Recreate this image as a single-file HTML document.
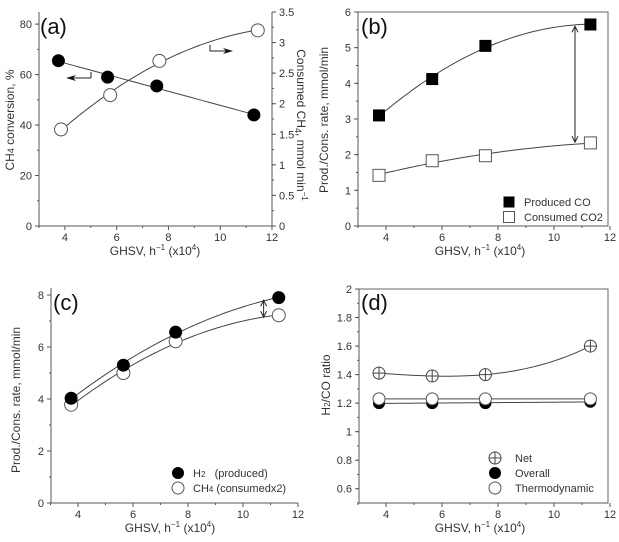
<!DOCTYPE html>
<html><head><meta charset="utf-8">
<style>
html,body{margin:0;padding:0;background:#fff;}
svg{display:block;font-family:"Liberation Sans",Arial,sans-serif;}
</style></head>
<body>
<svg id="fig" width="619" height="542" viewBox="0 0 619 542" xmlns="http://www.w3.org/2000/svg"></svg>
<script>
// ---- data ----
const xA_filled = [3.75, 5.65, 7.55, 11.3];
const yA_conv = [65.5, 59, 55.5, 44];
const xA_open = [3.85, 5.75, 7.65, 11.45];
const yA_consCH4 = [1.58, 2.14, 2.7, 3.2];
const xGHSV = [3.75, 5.65, 7.55, 11.3];
const yB_CO = [3.1, 4.12, 5.05, 5.65];
const yB_CO2 = [1.42, 1.83, 1.97, 2.33];
const yC_H2 = [4.03, 5.3, 6.57, 7.9];
const yC_CH4 = [3.78, 5.0, 6.22, 7.22];
const yD_net = [1.41, 1.39, 1.40, 1.60];
const yD_overall = [1.20, 1.20, 1.20, 1.21];
const yD_thermo = [1.23, 1.23, 1.23, 1.23];
const xTicks = [4, 6, 8, 10, 12];
const yTicksA = [0, 20, 40, 60, 80];
const yTicksA2 = [0, 0.5, 1, 1.5, 2, 2.5, 3, 3.5];
const yTicksB = [0, 1, 2, 3, 4, 5, 6];
const yTicksC = [0, 2, 4, 6, 8];
const yTicksD = [0.6, 0.8, 1, 1.2, 1.4, 1.6, 1.8, 2];
const yTickLabelsD = ["0.6", "0.8", "1", "1.2", "1.4", "1.6", "1.8", "2"];

const NS = "http://www.w3.org/2000/svg";
const svg = document.getElementById("fig");
function el(tag, attrs, parent, text) {
  const e = document.createElementNS(NS, tag);
  for (const k in attrs) e.setAttribute(k, attrs[k]);
  if (text !== undefined) e.textContent = text;
  (parent || svg).appendChild(e);
  return e;
}
function scale(d0, d1, r0, r1) { return v => r0 + (v - d0) * (r1 - r0) / (d1 - d0); }
function polyfit(xs, ys, deg) {
  const n = deg + 1, A = [], b = [];
  for (let i = 0; i < n; i++) { A.push(new Array(n).fill(0)); b.push(0); }
  for (let k = 0; k < xs.length; k++) for (let i = 0; i < n; i++) {
    b[i] += ys[k] * Math.pow(xs[k], i);
    for (let j = 0; j < n; j++) A[i][j] += Math.pow(xs[k], i + j);
  }
  for (let i = 0; i < n; i++) {
    let p = i; for (let r = i + 1; r < n; r++) if (Math.abs(A[r][i]) > Math.abs(A[p][i])) p = r;
    [A[i], A[p]] = [A[p], A[i]]; [b[i], b[p]] = [b[p], b[i]];
    for (let r = 0; r < n; r++) if (r !== i) { const f = A[r][i] / A[i][i]; for (let c = i; c < n; c++) A[r][c] -= f * A[i][c]; b[r] -= f * b[i]; }
  }
  const c = b.map((v, i) => v / A[i][i]);
  return x => c.reduce((s, ci, i) => s + ci * Math.pow(x, i), 0);
}
function fitPath(g, xs, ys, deg, sx, sy, name) {
  const f = polyfit(xs, ys, deg);
  const x0 = xs[0], x1 = xs[xs.length - 1];
  let d = "";
  for (let i = 0; i <= 60; i++) { const x = x0 + (x1 - x0) * i / 60; d += (i ? "L" : "M") + sx(x).toFixed(2) + "," + sy(f(x)).toFixed(2); }
  const p = el("path", { d: d, fill: "none", stroke: "#444", "stroke-width": 1 }, g);
  
  
}
function marker(g, type, cx, cy, s, name) {
  let m;
  if (type === "fc") m = el("circle", { cx: cx, cy: cy, r: s, fill: "#000" }, g);
  else if (type === "oc") m = el("circle", { cx: cx, cy: cy, r: s, fill: "#fff", stroke: "#555", "stroke-width": 1 }, g);
  else if (type === "fs") m = el("rect", { x: cx - s, y: cy - s, width: 2 * s, height: 2 * s, fill: "#000" }, g);
  else if (type === "os") m = el("rect", { x: cx - s, y: cy - s, width: 2 * s, height: 2 * s, fill: "#fff", stroke: "#555", "stroke-width": 1 }, g);
  else if (type === "pc") {
    m = el("g", {}, g);
    el("circle", { cx: cx, cy: cy, r: s, fill: "#fff", stroke: "#444", "stroke-width": 1 }, m);
    el("path", { d: `M${cx - s},${cy}H${cx + s}M${cx},${cy - s}V${cy + s}`, stroke: "#444", "stroke-width": 1 }, m);
  }
  
  
  return m;
}
function series(g, xs, ys, type, s, sx, sy, name) {
  for (let i = 0; i < xs.length; i++) marker(g, type, sx(xs[i]), sy(ys[i]), s, name + "-point-" + (i + 1));
}
function xAxis(g, sx, y0, x0, x1, tx) {
  el("line", { x1: x0, y1: y0, x2: x1, y2: y0, stroke: "#555" }, g);
  for (let v = 3; v <= 12; v++) {
    const major = v % 2 === 0;
    el("line", { x1: sx(v), y1: y0, x2: sx(v), y2: y0 + (major ? 4 : 2), stroke: "#555" }, g);
  }
  xTicks.forEach(v => {
    const t = el("text", { x: sx(v), y: y0 + 15, "font-size": 11, fill: "#333", "text-anchor": "middle" }, g, String(v));
    
    
  });
  const t = el("text", { x: tx, y: y0 + 29, "font-size": 12, fill: "#333", "text-anchor": "middle" }, g);
  
  
  t.innerHTML = 'GHSV, h<tspan dy="-5" font-size="8">−1</tspan><tspan dy="5"> (x10</tspan><tspan dy="-5" font-size="8">4</tspan><tspan dy="5">)</tspan>';
}
function yAxis(g, sy, x0, yTop, yBot, ticks, labels, side, minorStep, ymin, ymax) {
  el("line", { x1: x0, y1: yTop, x2: x0, y2: yBot, stroke: "#555" }, g);
  const dir = side === "left" ? -1 : 1;
  for (let v = ymin; v <= ymax + 1e-9; v += minorStep) {
    el("line", { x1: x0, y1: sy(v), x2: x0 + dir * 2, y2: sy(v), stroke: "#555" }, g);
  }
  ticks.forEach((v, i) => {
    el("line", { x1: x0, y1: sy(v), x2: x0 + dir * 4, y2: sy(v), stroke: "#555" }, g);
    const t = el("text", { x: x0 + dir * 7, y: sy(v) + 4, "font-size": 11, fill: "#333", "text-anchor": side === "left" ? "end" : "start" }, g, labels ? labels[i] : String(v));
    
    
  });
}
function ytitle(g, x, y, html, rot, name) {
  const t = el("text", { x: 0, y: 0, "font-size": 12, fill: "#333", "text-anchor": "middle", transform: `translate(${x},${y}) rotate(${rot})` }, g);
  t.innerHTML = html;
  
  
}
function plabel(g, x, y, s) {
  const t = el("text", { x: x, y: y, "font-size": 22, fill: "#111" }, g, s);
  
  
}
function arrowHead(g, x, y, dir) {
  el("path", { d: `M${x - 3},${y - dir * 6}L${x},${y}L${x + 3},${y - dir * 6}`, fill: "none", stroke: "#222", "stroke-width": 1 }, g);
}

// ---- Panel (a) ----
(function () {
  const g = el("g", {});  
  const sx = scale(3, 12, 39, 272), sy = scale(0, 85, 226, 11.5), sy2 = scale(0, 3.5, 226, 12);
  xAxis(g, sx, 226, 39, 272, 155);
  yAxis(g, sy, 39, 12, 226, yTicksA, null, "left", 10, 0, 80);
  yAxis(g, sy2, 272, 12, 226, yTicksA2, null, "right", 0.25, 0, 3.5);
  fitPath(g, xA_filled, yA_conv, 1, sx, sy, "conversion-fit-line");
  fitPath(g, xA_open, yA_consCH4, 2, sx, sy2, "consumed-ch4-fit-line");
  series(g, xA_filled, yA_conv, "fc", 6.5, sx, sy, "ch4-conversion");
  series(g, xA_open, yA_consCH4, "oc", 6.5, sx, sy2, "consumed-ch4");
  el("path", { d: "M91,78H69", stroke: "#222", fill: "none" }, g);
  el("path", { d: "M91,78V72", stroke: "#222", fill: "none" }, g);
  el("path", { d: "M66,78L76,75L73,78L76,81Z", fill: "#111" }, g);
  el("path", { d: "M210,45V51H230", stroke: "#222", fill: "none" }, g);
  el("path", { d: "M233,51L223,48L226,51L223,54Z", fill: "#111" }, g);
  plabel(g, 40, 34, "(a)");
  ytitle(g, 14, 120, 'CH<tspan font-size="9">4</tspan> conversion, %', -90, "y-axis-title-left");
  ytitle(g, 297, 125, 'Consumed CH<tspan font-size="9" dy="2">4</tspan><tspan dy="-2">, mmol min</tspan><tspan dy="-5" font-size="8">−1</tspan>', 90, "y-axis-title-right");
})();

// ---- Panel (b) ----
(function () {
  const g = el("g", {});  
  const sx = scale(3, 12, 358, 610), sy = scale(0, 6, 226, 12);
  el("rect", { x: 358, y: 12, width: 250, height: 214, fill: "none", stroke: "#666" }, g);
  xAxis(g, sx, 226, 358, 608, 480);
  yAxis(g, sy, 358, 12, 226, yTicksB, null, "left", 0.5, 0, 6);
  fitPath(g, xGHSV, yB_CO, 2, sx, sy, "produced-co-fit");
  fitPath(g, xGHSV, yB_CO2, 2, sx, sy, "consumed-co2-fit");
  series(g, xGHSV, yB_CO, "fs", 6, sx, sy, "produced-co");
  series(g, xGHSV, yB_CO2, "os", 6, sx, sy, "consumed-co2");
  const ax = sx(10.75), ya = sy(5.6), yb = sy(2.35);
  el("line", { x1: ax, y1: ya, x2: ax, y2: yb, stroke: "#222" }, g);
  arrowHead(g, ax, ya, -1); arrowHead(g, ax, yb, 1);
  marker(g, "fs", 509, 202, 5.5, "legend-marker-produced-co");
  marker(g, "os", 509, 217, 5.5, "legend-marker-consumed-co2");
  let t = el("text", { x: 524, y: 206, "font-size": 11, fill: "#333" }, g, "Produced CO");  
  t = el("text", { x: 524, y: 221, "font-size": 11, fill: "#333" }, g, "Consumed CO2");  
  plabel(g, 361, 34, "(b)");
  ytitle(g, 328, 120, 'Prod./Cons. rate, mmol/min', -90, "y-axis-title");
})();

// ---- Panel (c) ----
(function () {
  const g = el("g", {});  
  const sx = scale(3, 12, 50.5, 298), sy = scale(0, 8, 503, 295);
  xAxis(g, sx, 503, 51, 298, 170);
  yAxis(g, sy, 51, 288, 503, yTicksC, null, "left", 1, 0, 8);
  fitPath(g, xGHSV, yC_H2, 2, sx, sy, "h2-fit");
  fitPath(g, xGHSV, yC_CH4, 2, sx, sy, "ch4-fit");
  series(g, xGHSV, yC_CH4, "oc", 6.5, sx, sy, "ch4-consumed-x2");
  series(g, xGHSV, yC_H2, "fc", 6.5, sx, sy, "h2-produced");
  const ax = sx(10.75), ya = sy(7.8), yb = sy(7.15);
  el("line", { x1: ax, y1: ya, x2: ax, y2: yb, stroke: "#222" }, g);
  arrowHead(g, ax, ya, -1); arrowHead(g, ax, yb, 1);
  marker(g, "fc", 178, 473, 6, "legend-marker-h2");
  marker(g, "oc", 178, 488, 6, "legend-marker-ch4");
  let t = el("text", { x: 193, y: 477, "font-size": 11, fill: "#333" }, g);
  t.innerHTML = 'H<tspan font-size="8">2</tspan>&#160;&#160;&#160;(produced)';
   
  t = el("text", { x: 193, y: 492, "font-size": 11, fill: "#333" }, g);
  t.innerHTML = 'CH<tspan font-size="8">4</tspan> (consumedx2)';
   
  plabel(g, 53, 310, "(c)");
  ytitle(g, 20, 400, 'Prod./Cons. rate, mmol/min', -90, "y-axis-title");
})();

// ---- Panel (d) ----
(function () {
  const g = el("g", {});  
  const sx = scale(3, 12, 358, 610), sy = scale(0.5, 2, 503, 289);
  el("rect", { x: 359, y: 289, width: 249, height: 214, fill: "none", stroke: "#666" }, g);
  xAxis(g, sx, 503, 359, 608, 480);
  yAxis(g, sy, 359, 289, 503, yTicksD, yTickLabelsD, "left", 0.1, 0.5, 2);
  fitPath(g, xGHSV, yD_net, 3, sx, sy, "net-fit");
  fitPath(g, xGHSV, yD_overall, 1, sx, sy, "overall-fit");
  fitPath(g, xGHSV, yD_thermo, 1, sx, sy, "thermodynamic-fit");
  series(g, xGHSV, yD_overall, "fc", 6, sx, sy, "overall");
  series(g, xGHSV, yD_thermo, "oc", 6, sx, sy, "thermodynamic");
  series(g, xGHSV, yD_net, "pc", 6, sx, sy, "net");
  marker(g, "pc", 495, 458, 6, "legend-marker-net");
  marker(g, "fc", 495, 473, 6, "legend-marker-overall");
  marker(g, "oc", 495, 488, 6, "legend-marker-thermodynamic");
  [["Net", 462], ["Overall", 477], ["Thermodynamic", 492]].forEach(([s, y]) => {
    const t = el("text", { x: 515, y: y, "font-size": 11, fill: "#333" }, g, s);
     
  });
  plabel(g, 361, 310, "(d)");
  ytitle(g, 330, 385, 'H<tspan font-size="8">2</tspan>/CO ratio', -90, "y-axis-title");
})();
</script>
</body></html>
